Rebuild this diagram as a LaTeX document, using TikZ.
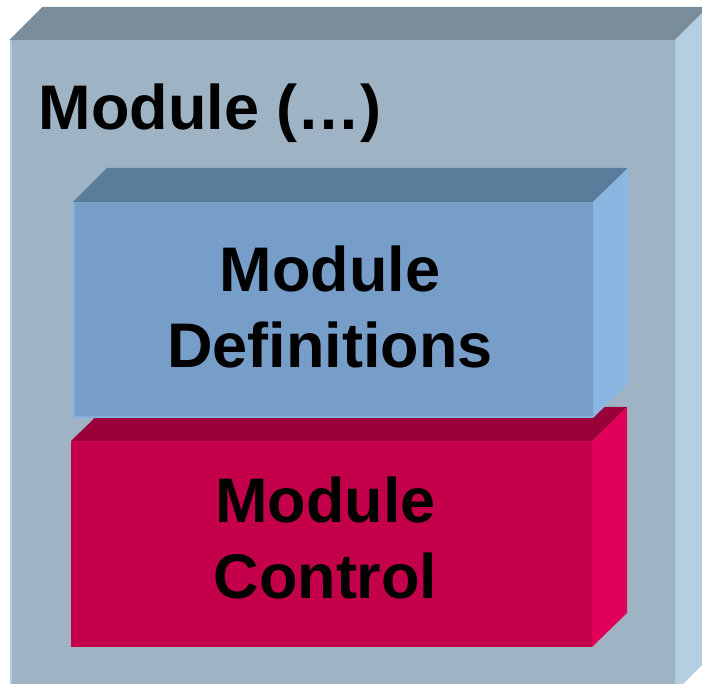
\documentclass[tikz,border=0pt]{standalone}
\usepackage{fontspec}
\setmainfont{Liberation Sans}
\definecolor{outerFront}{HTML}{9EB4C4}
\definecolor{outerTop}{HTML}{7A8D9A}
\definecolor{outerSide}{HTML}{B4CFE1}
\definecolor{outerEdge}{HTML}{B2CDE0}
\definecolor{defFront}{HTML}{779EC8}
\definecolor{defTop}{HTML}{5C7C9C}
\definecolor{defSide}{HTML}{8AB6E2}
\definecolor{defEdge}{HTML}{86AEDA}
\definecolor{ctlFront}{HTML}{C4004B}
\definecolor{ctlTop}{HTML}{9A0039}
\definecolor{ctlSide}{HTML}{E0005A}
\begin{document}
\begin{tikzpicture}[x=1pt,y=-1pt,
  label/.style={inner sep=0pt,align=center,text=black,
    font=\fontsize{63}{76}\selectfont\bfseries}]
\useasboundingbox (0,0) rectangle (702,684);

% outer block: front, top and side faces
\fill[outerFront] (9.5,40) rectangle (675,692);
\fill[outerTop] (9.5,40) -- (42.5,7) -- (708,7) -- (675,40) -- cycle;
\fill[outerSide] (675,40) -- (708,7) -- (708,659) -- (675,692) -- cycle;
\draw[outerEdge,line width=2pt] (10.5,41) -- (10.5,692);
\draw[outerEdge,line width=2pt] (676,41) -- (676,692);

% control block (drawn first, the definitions block overlaps its top)
\fill[ctlFront] (71,441) rectangle (592,647);
\fill[ctlTop] (71,441) -- (106,407) -- (627,407) -- (592,441) -- cycle;
\fill[ctlSide] (592,441) -- (627,407) -- (627,613) -- (592,647) -- cycle;

% definitions block
\fill[defFront] (73,202) rectangle (593,418);
\fill[defTop] (73,202) -- (107,168) -- (628,168) -- (593,202) -- cycle;
\fill[defSide] (593,202) -- (628,168) -- (628,384) -- (593,418) -- cycle;
\draw[defEdge,line width=1.5pt] (73.75,202) -- (73.75,417.25) -- (593,417.25);

% labels
\node[label,anchor=base west] (title) at (38.5,130) {Module (…)};
\node[label] (defs) at (330,307.3) {Module\\Definitions};
\node[label] (ctrl) at (325.5,537.8) {Module\\Control};
\end{tikzpicture}
\end{document}
